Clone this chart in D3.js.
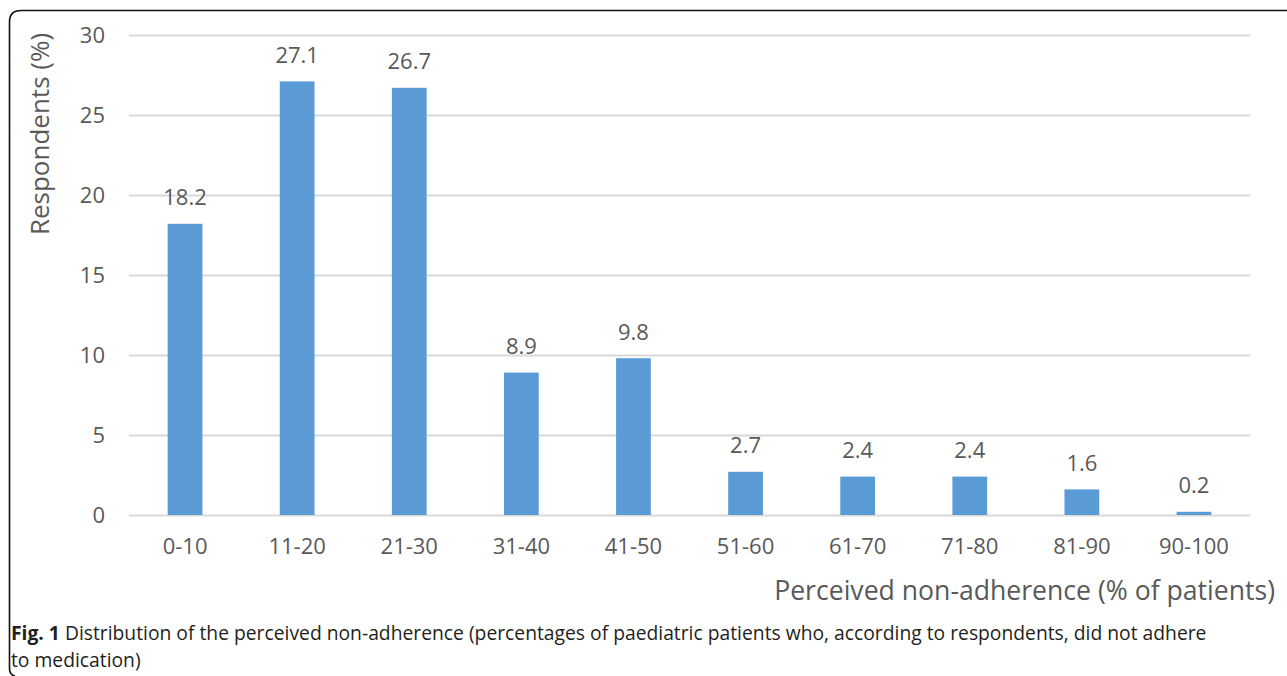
<!DOCTYPE html>
<html>
<head>
<meta charset="utf-8">
<script src="https://cdn.jsdelivr.net/npm/d3@7"></script>
<style>
  html, body { margin: 0; padding: 0; background: #fff; }
  svg { display: block; }
</style>
</head>
<body>
<svg id="chart" width="1287" height="676"></svg>
<script>
// Share of respondents by perceived non-adherence band
const categories = ["0-10", "11-20", "21-30", "31-40", "41-50", "51-60", "61-70", "71-80", "81-90", "90-100"];
const respondents = [18.2, 27.1, 26.7, 8.9, 9.8, 2.7, 2.4, 2.4, 1.6, 0.2];
const yTicks = [0, 5, 10, 15, 20, 25, 30];

const yTitle = "Respondents (%)";
const xTitle = "Perceived non-adherence (% of patients)";
const captionBold = "Fig. 1";
const captionLine1 = " Distribution of the perceived non-adherence (percentages of paediatric patients who, according to respondents, did not adhere";
const captionLine2 = "to medication)";

const svg = d3.select("#chart");
const font = "'Open Sans', 'Noto Sans', sans-serif";
const textGrey = "#595959";

const plot = { left: 129, right: 1250, top: 35, bottom: 515 };

const x = d3.scaleBand().domain(categories).range([plot.left, plot.right]).paddingInner(0.69).paddingOuter(0.345);
const y = d3.scaleLinear().domain([0, 30]).range([plot.bottom, plot.top]);

// Frame around the figure: rounded left corners, open on the right
svg.append("path")
  .attr("d", "M1287,10.5 L21,10.5 Q9.5,10.5 9.5,22 L9.5,668 Q9.5,675 15,676")
  .attr("fill", "none").attr("stroke", "#111").attr("stroke-width", 1.6);

// Horizontal gridlines and value ticks
const yAxis = d3.axisLeft(y).tickValues(yTicks).tickSize(-(plot.right - plot.left)).tickPadding(24);
const gy = svg.append("g").attr("transform", `translate(${plot.left},0)`).call(yAxis);
gy.select(".domain").remove();
gy.selectAll(".tick line").attr("stroke", "#d9d9d9").attr("stroke-width", 2);
gy.selectAll(".tick text")
  .attr("fill", textGrey).attr("font-family", font).attr("font-size", 22);

// Category axis labels
const xAxis = d3.axisBottom(x).tickSize(0).tickPadding(23);
const gx = svg.append("g").attr("transform", `translate(0,${plot.bottom})`).call(xAxis);
gx.select(".domain").remove();
gx.selectAll(".tick text")
  .attr("fill", textGrey).attr("font-family", font).attr("font-size", 22);

const rows = categories.map((c, i) => ({ c, v: respondents[i] }));

// Bars
svg.append("g").selectAll("rect")
  .data(rows)
  .join("rect")
  .attr("x", d => x(d.c))
  .attr("width", x.bandwidth())
  .attr("y", d => y(d.v))
  .attr("height", d => y(0) - y(d.v))
  .attr("fill", "#5b9bd5");

// Value labels above bars
svg.append("g").selectAll("text")
  .data(rows)
  .join("text")
  .attr("x", d => x(d.c) + x.bandwidth() / 2)
  .attr("y", d => y(d.v) - 18.5)
  .attr("text-anchor", "middle")
  .attr("fill", textGrey).attr("font-family", font).attr("font-size", 22)
  .text(d => d.v.toFixed(1));

// Axis titles
svg.append("text")
  .attr("transform", "translate(49,134) rotate(-90)")
  .attr("text-anchor", "middle")
  .attr("fill", textGrey).attr("font-family", font).attr("font-size", 26)
  .text(yTitle);

svg.append("text")
  .attr("x", 1275).attr("y", 600)
  .attr("text-anchor", "end")
  .attr("fill", textGrey).attr("font-family", font).attr("font-size", 26.6)
  .text(xTitle);

// Figure caption
const cap = svg.append("text")
  .attr("x", 11).attr("y", 640)
  .attr("fill", "#231f20").attr("font-family", font).attr("font-size", 19.3);
cap.append("tspan").attr("font-weight", "bold").text(captionBold);
cap.append("tspan").text(captionLine1);
svg.append("text")
  .attr("x", 11).attr("y", 667)
  .attr("fill", "#231f20").attr("font-family", font).attr("font-size", 19.3)
  .text(captionLine2);
</script>
</body>
</html>
